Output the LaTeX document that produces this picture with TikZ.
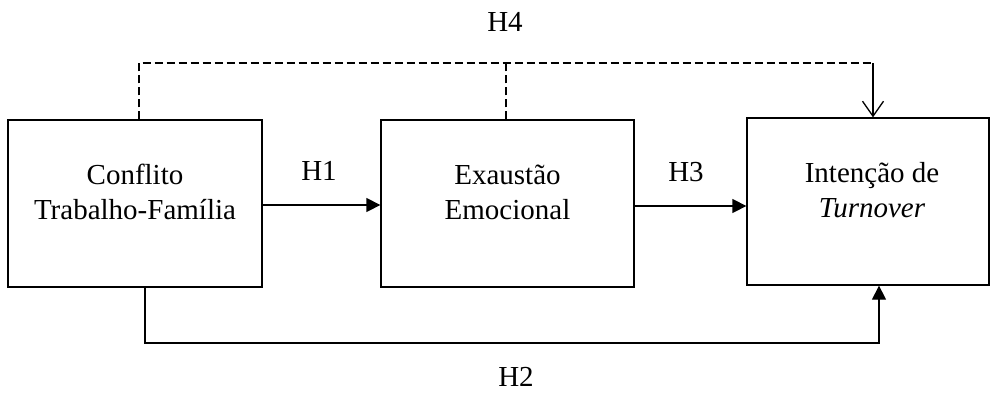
\documentclass[tikz,border=0pt]{standalone}
\usepackage{fontspec}
\setmainfont{Liberation Serif}
\usetikzlibrary{arrows.meta,calc}
\begin{document}
\begin{tikzpicture}[x=1pt,y=-1pt,
  boxnode/.style={draw, line width=1.3pt, minimum width=#1, minimum height=167pt, inner sep=0pt},
  txt/.style={font=\fontsize{29}{35}\selectfont, align=center, inner sep=0pt},
  conn/.style={line width=1.3pt},
  dashconn/.style={line width=1.5pt, dash pattern=on 8pt off 4pt},
  filltip/.style={-{Triangle[length=14pt,width=14pt]}},
  opentip/.style={-{Straight Barb[length=15pt,width=21pt,line width=1.3pt]}}]
\useasboundingbox (0,0) rectangle (990,394);
% boxes
\node[boxnode=254pt] (b1) at (135,203.5) {};
\node[boxnode=253pt] (b2) at (507.5,203.5) {};
\node[boxnode=242pt] (b3) at (868,201.5) {};
% texts
\node[txt] (t1) at (135,192) {Conflito\\Trabalho-Família};
\node[txt] (t2) at (507.5,192) {Exaustão\\Emocional};
\node[txt] (t3) at (872,190) {Intenção de\\\textit{Turnover}};
% labels
\node[txt] (h4) at (505,22) {H4};
\node[txt] (h1) at (319,171) {H1};
\node[txt] (h3) at (686,172) {H3};
\node[txt] (h2) at (516,377) {H2};
% H1, H3
\draw[conn,filltip] (b1.east |- 0,205) -- (b2.west |- 0,205);
\draw[conn,filltip] (b2.east |- 0,206) -- (b3.west |- 0,206);
% H4 dashed
\coordinate (top) at (873,63);
\draw[dashconn] (b1.north -| 139,0) -- (139,63) -- (top);
\draw[dashconn] (b2.north -| 506,0) -- (506,63);
\draw[conn,opentip] (top) -- (b3.north -| top);
% H2
\coordinate (low) at (879,343);
\draw[conn,filltip] (b1.south -| 145,0) -- (145,343) -- (low) -- (b3.south -| low);
\end{tikzpicture}
\end{document}
